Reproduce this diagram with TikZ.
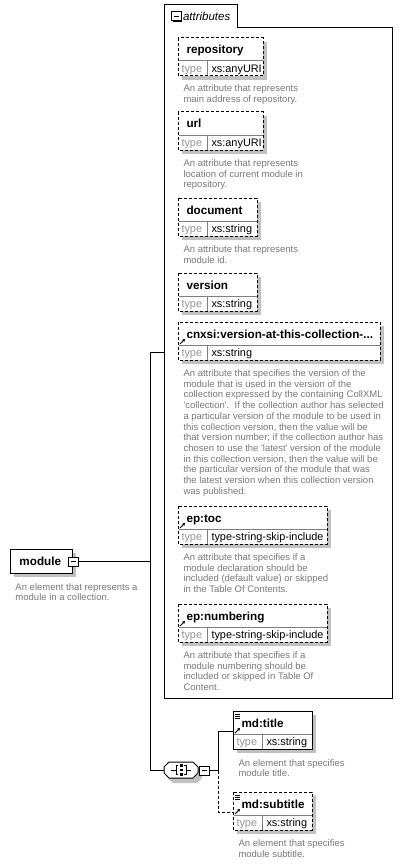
\documentclass[tikz,border=0pt]{standalone}
\usepackage{fontspec}
\setmainfont{Liberation Sans}
\usepackage{tikz}
\usetikzlibrary{arrows.meta}

\definecolor{shadowgray}{RGB}{192,192,192}
\definecolor{descgray}{RGB}{120,120,120}
\definecolor{typegray}{RGB}{150,150,150}
\definecolor{sepgray}{RGB}{128,128,128}

\tikzset{
	titletext/.style={anchor=base west, inner sep=0, font=\fontsize{11.7}{14}\selectfont\bfseries},
	typelabel/.style={anchor=base west, inner sep=0, text=typegray, font=\fontsize{10.9}{13}\selectfont},
	typetext/.style={typelabel, text=black},
	desctext/.style={anchor=base west, inner sep=0, text=descgray, font=\fontsize{9.5}{10.7}\selectfont},
	optional/.style={dash pattern=on 3pt off 2pt}
}

\newcommand{\drawshadowrect}[5]{% x1, y1, x2, y2, param
	\fill[shadowgray] (#1 + 4, #2 + 4) rectangle (#3 + 4, #4 + 4);
	\draw[fill=white, #5] (#1, #2) rectangle (#3, #4);
}
\newcommand{\drawminusbox}[3]{% name, x, y
	\fill (#2 + 1.5, #3 + 1.5) rectangle (#2 + 11, #3 + 10);
	\draw[fill=white] (#2, #3) rectangle (#2 + 10, #3 + 9);
	\draw (#2 + 2.5, #3 + 4.5) -- (#2 + 7.5, #3 + 4.5);
	\coordinate (#1) at (#2 + 10, #3 + 4.5);
}
\newcommand{\drawtypebox}[7]{% name, x1, y1, x2, title, type, param
	\drawshadowrect{#2}{#3}{#4}{#3 + 38}{#7}
	\draw[sepgray] (#2 + 0.5, #3 + 23) -- (#4 - 0.5, #3 + 23);
	\draw[sepgray] (#2 + 29, #3 + 23) -- (#2 + 29, #3 + 37.5);
	\node[titletext] (#1) at (#2 + 8, #3 + 16) {#5};
	\node[typelabel] (#1-typelabel) at (#2 + 3, #3 + 34.5) {type};
	\node[typetext] (#1-type) at (#2 + 33, #3 + 34.5) {#6};
	\coordinate (#1-in) at (#2, #3 + 20);
}
\newcommand{\drawrefarrow}[2]{% x, y
	\draw[-{Stealth[length=3pt, width=3.5pt]}, line width=1pt] (#1 + 2, #2 + 22) -- (#1 + 7, #2 + 17);
}
\newcommand{\drawlisticon}[2]{% x, y
	\foreach \k in {0, 2, 4}
		\draw[line width=0.7pt] (#1 + 2, #2 + 3 + \k) -- (#1 + 7, #2 + 3 + \k);
}
\newcommand{\drawdesc}[4]{% name, x, y, lines
	\foreach \l [count=\i] in {#4}
		\node[desctext] (#1-\i) at (#2, #3 + \i * 10.7 - 10.7) {\l};
}
\newcommand{\drawsequence}[3]{% name, x, y
	\fill[shadowgray] (#2 + 4, #3 + 10) -- (#2 + 9, #3 + 5) -- (#2 + 33, #3 + 5) -- (#2 + 38, #3 + 10) -- (#2 + 38, #3 + 16) -- (#2 + 33, #3 + 21) -- (#2 + 9, #3 + 21) -- (#2 + 4, #3 + 16) -- cycle;
	\draw[fill=white] (#2, #3 + 5) -- (#2 + 5, #3) -- (#2 + 29, #3) -- (#2 + 34, #3 + 5) -- (#2 + 34, #3 + 11) -- (#2 + 29, #3 + 16) -- (#2 + 5, #3 + 16) -- (#2, #3 + 11) -- cycle;
	\draw (#2 + 7, #3 + 8) -- (#2 + 12, #3 + 8);
	\draw (#2 + 22, #3 + 8) -- (#2 + 27, #3 + 8);
	\draw (#2 + 14, #3 + 3.5) -- (#2 + 12, #3 + 3.5) -- (#2 + 12, #3 + 12.5) -- (#2 + 14, #3 + 12.5);
	\draw (#2 + 20, #3 + 3.5) -- (#2 + 22, #3 + 3.5) -- (#2 + 22, #3 + 12.5) -- (#2 + 20, #3 + 12.5);
	\foreach \k in {3.5, 8, 12.5}
		\fill (#2 + 15.5, #3 + \k - 1.3) rectangle (#2 + 18.5, #3 + \k + 1.3);
	\coordinate (#1-in) at (#2, #3 + 8);
}

\begin{document}
\begin{tikzpicture}[x=1pt, y=-1pt, line width=1pt]
\useasboundingbox (0, 0) rectangle (402, 864);

\draw (164, 698) -- (164, 5) -- (237, 5) -- (237, 28) -- (392, 28) -- (392, 698) -- cycle;
\drawminusbox{attributes-minus}{171}{12}
\node[anchor=base west, inner sep=0, font=\fontsize{11.5}{14}\selectfont\itshape] (attributes) at (182.5, 20.5) {attributes};
\coordinate (attributes-in) at (164, 352);

\drawtypebox{repository}{178}{38}{263}{repository}{xs:anyURI}{optional}
\drawdesc{repository-desc}{183}{92}{An attribute that represents, main address of repository.}

\drawtypebox{url}{178}{112}{263}{url}{xs:anyURI}{optional}
\drawdesc{url-desc}{183}{166.5}{An attribute that represents, location of current module in, repository.}

\drawtypebox{document}{178}{198}{257}{document}{xs:string}{optional}
\drawdesc{document-desc}{183}{252.5}{An attribute that represents, module id.}

\drawtypebox{version}{178}{273}{257}{version}{xs:string}{optional}

\drawtypebox{cnxsi}{178}{322}{380}{cnxsi:version-at-this-collection-...}{xs:string}{optional}
\drawrefarrow{178}{322}
\drawdesc{cnxsi-desc}{183}{376.5}{An attribute that specifies the version of the, module that is used in the version of the, collection expressed by the containing CollXML, \textquotesingle collection\textquotesingle.\ \ If the collection author has selected, a particular version of the module to be used in, {this collection version, then the value will be}, that version number; if the collection author has, chosen to use the \textquotesingle latest\textquotesingle\ version of the module, {in this collection version, then the value will be}, the particular version of the module that was, the latest version when this collection version, was published.}

\drawtypebox{toc}{178}{506}{327}{ep:toc}{type-string-skip-include}{optional}
\drawrefarrow{178}{506}
\drawdesc{toc-desc}{183}{560.5}{An attribute that specifies if a, module declaration should be, included (default value) or skipped, in the Table Of Contents.}

\drawtypebox{numbering}{178}{604}{327}{ep:numbering}{type-string-skip-include}{optional}
\drawrefarrow{178}{604}
\drawdesc{numbering-desc}{183}{658.5}{An attribute that specifies if a, module numbering should be, included or skipped in Table Of, Content.}

\drawshadowrect{10}{549}{72}{573}{}
\node[titletext] (module) at (19, 565) {module};
\drawminusbox{module-minus}{68}{557}
\drawdesc{module-desc}{15}{590}{An element that represents a, module in a collection.}

\drawsequence{sequence}{164}{762}
\drawminusbox{sequence-minus}{199}{766}

\coordinate (bus-top) at (150, 352);
\coordinate (bus-bottom) at (150, 770);
\draw (module-minus) -- (module-minus -| bus-top);
\draw (attributes-in) -- (bus-top) -- (bus-bottom) -- (sequence-in);

\drawtypebox{title}{233}{711}{312}{md:title}{xs:string}{}
\drawlisticon{233}{711}
\drawrefarrow{233}{711}
\drawdesc{title-desc}{238}{766}{An element that specifies, module title.}

\drawtypebox{subtitle}{233}{792}{312}{md:subtitle}{xs:string}{optional}
\drawlisticon{233}{792}
\drawrefarrow{233}{792}
\drawdesc{subtitle-desc}{238}{846.5}{An element that specifies, module subtitle.}

\coordinate (choice-bus) at (218, 770.5);
\draw (sequence-minus) -- (choice-bus) |- (title-in);
\draw[optional] (choice-bus) |- (subtitle-in);
\end{tikzpicture}
\end{document}
